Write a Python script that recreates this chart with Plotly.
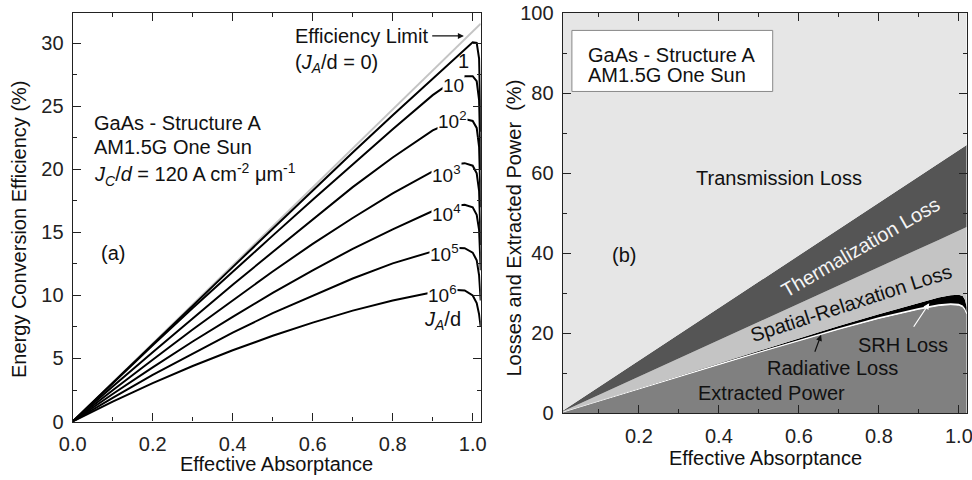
import plotly.graph_objects as go

FONT = "Liberation Sans, Arial, Helvetica, sans-serif"
W, H = 972, 480

# ---------------- panel (a): efficiency vs effective absorptance ----------------
absorptance = [0.0, 0.05, 0.1, 0.2, 0.3, 0.4, 0.5, 0.6, 0.7, 0.8, 0.9,
               0.95, 0.98, 1.0, 1.01, 1.016, 1.02]

limit_x = [0.0, 1.02]
limit_eff = [0.0, 31.57]

eff_1 = [0, 1.54, 3.08, 6.15, 9.2, 12.25, 15.3, 18.35, 21.35, 24.3, 27.2,
         28.7, 29.6, 30.1, 30.05, 28.8, 23.0]
eff_10 = [0, 1.53, 3.05, 6.05, 9.0, 11.9, 14.75, 17.6, 20.4, 23.2, 25.9,
          27.0, 27.4, 27.4, 27.0, 25.5, 20.0]
eff_1e2 = [0, 1.4, 2.78, 5.5, 8.2, 10.85, 13.45, 16.05, 18.6, 20.95, 23.1,
           23.8, 24.0, 23.85, 23.3, 21.8, 17.0]
eff_1e3 = [0, 1.25, 2.48, 4.9, 7.3, 9.6, 11.9, 14.1, 16.15, 18.1, 19.85,
           20.4, 20.5, 20.3, 19.7, 18.3, 14.0]
eff_1e4 = [0, 1.1, 2.18, 4.3, 6.35, 8.3, 10.2, 12.0, 13.7, 15.25, 16.7,
           17.1, 17.2, 17.0, 16.4, 15.2, 12.0]
eff_1e5 = [0, 0.95, 1.88, 3.7, 5.4, 7.05, 8.6, 10.0, 11.35, 12.55, 13.5,
           13.78, 13.75, 13.4, 12.8, 11.6, 9.6]
eff_1e6 = [0, 0.8, 1.58, 3.05, 4.4, 5.65, 6.8, 7.85, 8.8, 9.6, 10.25,
           10.45, 10.4, 10.0, 9.4, 8.5, 7.5]

curve_series = [eff_1, eff_10, eff_1e2, eff_1e3, eff_1e4, eff_1e5, eff_1e6]
# curve labels: (text, x of left edge, y of digits)
curve_labels = [
    ("10", 0.924, 26.7),
    ("10<sup>2</sup>", 0.911, 23.85),
    ("10<sup>3</sup>", 0.895, 19.6),
    ("10<sup>4</sup>", 0.895, 16.5),
    ("10<sup>5</sup>", 0.890, 13.3),
    ("10<sup>6</sup>", 0.886, 10.0),
]

# ---------------- panel (b): stacked loss breakdown ----------------
extracted_power = [0, 1.54, 3.08, 6.15, 9.2, 12.2, 15.2, 18.1, 21.0, 23.7, 26.0,
                   26.9, 27.15, 27.0, 26.6, 25.8, 24.8]
radiative_loss = [0, 0.02, 0.04, 0.08, 0.12, 0.15, 0.19, 0.22, 0.26, 0.29, 0.32,
                  0.34, 0.35, 0.35, 0.35, 0.35, 0.35]
srh_loss = [0, 0.01, 0.02, 0.05, 0.09, 0.18, 0.28, 0.4, 0.55, 0.75, 1.2,
            1.66, 2.0, 2.25, 2.35, 2.15, 1.35]
spatial_loss = [0, 0.72, 1.43, 2.87, 4.33, 5.79, 7.25, 8.76, 10.27, 11.83, 13.54,
                14.42, 15.19, 16.0, 16.76, 18.03, 20.01]
thermalization_loss = [0, 1.0, 2.01, 4.02, 6.03, 8.04, 10.05, 12.06, 14.07, 16.08, 18.09,
                       19.1, 19.7, 20.1, 20.3, 20.42, 20.5]
transmission_loss = [100, 96.72, 93.43, 86.86, 80.29, 73.72, 67.15, 60.58, 54.01, 47.44, 40.87,
                     37.58, 35.61, 34.3, 33.64, 33.25, 32.99]

# x tick labels of panel (b)
xb_ticks = [0.2, 0.4, 0.6, 0.8, 1.0]

fig = go.Figure()

# efficiency limit (grey) under the black curves
fig.add_trace(go.Scatter(x=limit_x, y=limit_eff, mode="lines",
                         line=dict(color="#c4c4c4", width=2),
                         xaxis="x", yaxis="y", showlegend=False, hoverinfo="skip"))
for ys in curve_series:
    fig.add_trace(go.Scatter(x=absorptance, y=ys, mode="lines",
                             line=dict(color="black", width=2),
                             xaxis="x", yaxis="y", showlegend=False, hoverinfo="skip"))

layers = [
    (extracted_power, "#808080", dict(color="white", width=1)),
    (radiative_loss, "#ffffff", dict(width=0)),
    (srh_loss, "#000000", dict(width=0)),
    (spatial_loss, "#c4c4c4", dict(width=0)),
    (thermalization_loss, "#555555", dict(width=0)),
    (transmission_loss, "#e6e6e6", dict(width=0)),
]
for vals, col, ln in layers:
    fig.add_trace(go.Scatter(x=absorptance, y=vals, mode="lines", stackgroup="loss",
                             fillcolor=col, line=ln, xaxis="x2", yaxis="y2",
                             showlegend=False, hoverinfo="skip"))

ax_line = "#222222"
tick_font = dict(family=FONT, size=20, color="#222222")


def minor(d):
    return dict(dtick=d, ticks="inside", ticklen=4, tickwidth=1.3, tickcolor=ax_line)


def axis(rng, dtick, mdtick, **kw):
    base = dict(showline=True, linecolor=ax_line, linewidth=1.3, mirror=True,
                ticks="inside", ticklen=8, tickwidth=1.3, tickcolor=ax_line,
                showgrid=False, zeroline=False, tickfont=tick_font,
                ticklabelstandoff=4, range=rng, tick0=0, dtick=dtick, minor=minor(mdtick))
    base.update(kw)
    return base


def twin(over, anchor, side, rng, dtick, mdtick, domain):
    # tick-only copy of an axis, drawn on the opposite edge of the frame
    return dict(overlaying=over, anchor=anchor, side=side, range=rng, tick0=0, dtick=dtick,
                ticks="inside", ticklen=8, tickwidth=1.3, tickcolor=ax_line,
                showticklabels=False, showline=False, showgrid=False, zeroline=False,
                minor=minor(mdtick), domain=domain)


xa_rng, ya_rng = [0, 1.02], [0, 32.44]
xb_rng, yb_rng = [0.01, 1.02], [0, 100]
xa_dom, ya_dom = [72.7 / W, 480.7 / W], [1 - 421.5 / H, 1 - 12.7 / H]
xb_dom, yb_dom = [562.7 / W, 966.7 / W], [1 - 413.3 / H, 1 - 13 / H]

fig.update_layout(
    width=W, height=H,
    margin=dict(l=0, r=0, t=0, b=0, autoexpand=False),
    paper_bgcolor="white", plot_bgcolor="white",
    font=dict(family=FONT, size=20, color="#111111"),
    xaxis=axis(xa_rng, 0.2, 0.1, domain=xa_dom, anchor="y", tickformat=".1f"),
    yaxis=axis(ya_rng, 5, 2.5, domain=ya_dom, anchor="x"),
    xaxis2=axis(xb_rng, 0.2, 0.1, domain=xb_dom, anchor="y2", tickformat=".1f"),
    yaxis2=axis(yb_rng, 20, 10, domain=yb_dom, anchor="x2"),
    xaxis3=twin("x", "y", "top", xa_rng, 0.2, 0.1, xa_dom),
    yaxis3=twin("y", "x", "right", ya_rng, 5, 2.5, ya_dom),
    xaxis4=twin("x2", "y2", "top", xb_rng, 0.2, 0.1, xb_dom),
    yaxis4=twin("y2", "x2", "right", yb_rng, 20, 10, yb_dom),
)
# invisible traces so the tick-only axes are drawn
fig.add_trace(go.Scatter(x=[None], y=[None], xaxis="x3", yaxis="y3", showlegend=False))
fig.add_trace(go.Scatter(x=[None], y=[None], xaxis="x4", yaxis="y4", showlegend=False))
# panel (b) x labels are written as text so the last one can sit on the page edge
fig.update_layout(xaxis2=dict(showticklabels=False))

ann = []


def text(t, x, y, ref="", size=20, color="#111111", xa="center", ya="middle", **kw):
    d = dict(text=t, x=x, y=y, xref="x" + ref, yref="y" + ref, showarrow=False,
             xanchor=xa, yanchor=ya, font=dict(family=FONT, size=size, color=color))
    d.update(kw)
    ann.append(d)


def ptext(t, px, py, **kw):
    d = dict(text=t, x=px / W, y=1 - py / H, xref="paper", yref="paper", showarrow=False,
             xanchor="center", yanchor="middle", font=dict(family=FONT, size=20, color="#111111"))
    d.update(kw)
    ann.append(d)


for v in xb_ticks:
    ann.append(dict(text=f"{v:.1f}", x=v, y=1 - 436 / H, xref="x2", yref="paper",
                    showarrow=False, xanchor="center", yanchor="middle",
                    font=tick_font))

# axis titles
ptext("Energy Conversion Efficiency (%)", 19, 229, textangle=-90)
ptext("Effective Absorptance", 276.5, 464)
ptext("Losses and Extracted Power\u00a0\u00a0(%)", 513.5, 228, textangle=-90)
ptext("Effective Absorptance", 765, 458)

# panel (a) annotations
text("Efficiency Limit", 0.551, 30.6, xa="left")
ann.append(dict(x=0.978, y=30.6, ax=0.895, ay=30.6, xref="x", yref="y", axref="x", ayref="y",
                text="", showarrow=True, arrowhead=2, arrowsize=1, arrowwidth=1.2,
                arrowcolor="#111111", standoff=0, startstandoff=0))
text("(<i>J<sub>A</sub></i>/d = 0)", 0.551, 28.4, xa="left")
text("1", 0.978, 28.6, size=20)
for lab, lx, ly in curve_labels:
    text(lab, lx, ly, xa="left", ya="bottom", yshift=-12, size=19, bgcolor="white",
         borderpad=0)
text("<i>J<sub>A</sub></i>/d", 0.874, 8.0, xa="left")
text("GaAs - Structure A", 0.0485, 23.7, xa="left")
text("AM1.5G One Sun", 0.0485, 21.8, xa="left")
text("<i>J<sub>C</sub></i>/<i>d</i> = 120 A cm<sup>-2</sup> \u03bcm<sup>-1</sup>", 0.0485, 19.6, xa="left")
text("(a)", 0.10, 13.4)

# panel (b) annotations
text("GaAs - Structure A", 0.068, 89.5, ref="2", xa="left")
text("AM1.5G One Sun", 0.068, 84.6, ref="2", xa="left")
text("Transmission Loss", 0.551, 58.75, ref="2")
text("Thermalization Loss", 0.755, 41.5, ref="2", color="#f4f4f4", textangle=-30)
text("Spatial-Relaxation Loss", 0.731, 27.6, ref="2", textangle=-18)
text("(b)", 0.164, 39.6, ref="2")
text("SRH Loss", 0.86, 17.1, ref="2")
text("Radiative Loss", 0.685, 11.25, ref="2")
text("Extracted Power", 0.531, 5.0, ref="2")
ann.append(dict(x=0.656, y=19.6, ax=0.639, ay=15.0, xref="x2", yref="y2", axref="x2", ayref="y2",
                text="", showarrow=True, arrowhead=2, arrowsize=1, arrowwidth=1.2,
                arrowcolor="#111111", standoff=0, startstandoff=0))
ann.append(dict(x=0.9265, y=27.5, ax=0.885, ay=21.25, xref="x2", yref="y2", axref="x2", ayref="y2",
                text="", showarrow=True, arrowhead=2, arrowsize=1, arrowwidth=1.2,
                arrowcolor="white", standoff=0, startstandoff=0))

fig.update_layout(annotations=ann)

# white text box in panel (b)
fig.add_shape(type="rect", xref="x2", yref="y2", x0=0.033, x1=0.535, y0=80.4, y1=95.65,
              fillcolor="white", line=dict(color="#888888", width=1), layer="above")

fig.write_html("out.html")
